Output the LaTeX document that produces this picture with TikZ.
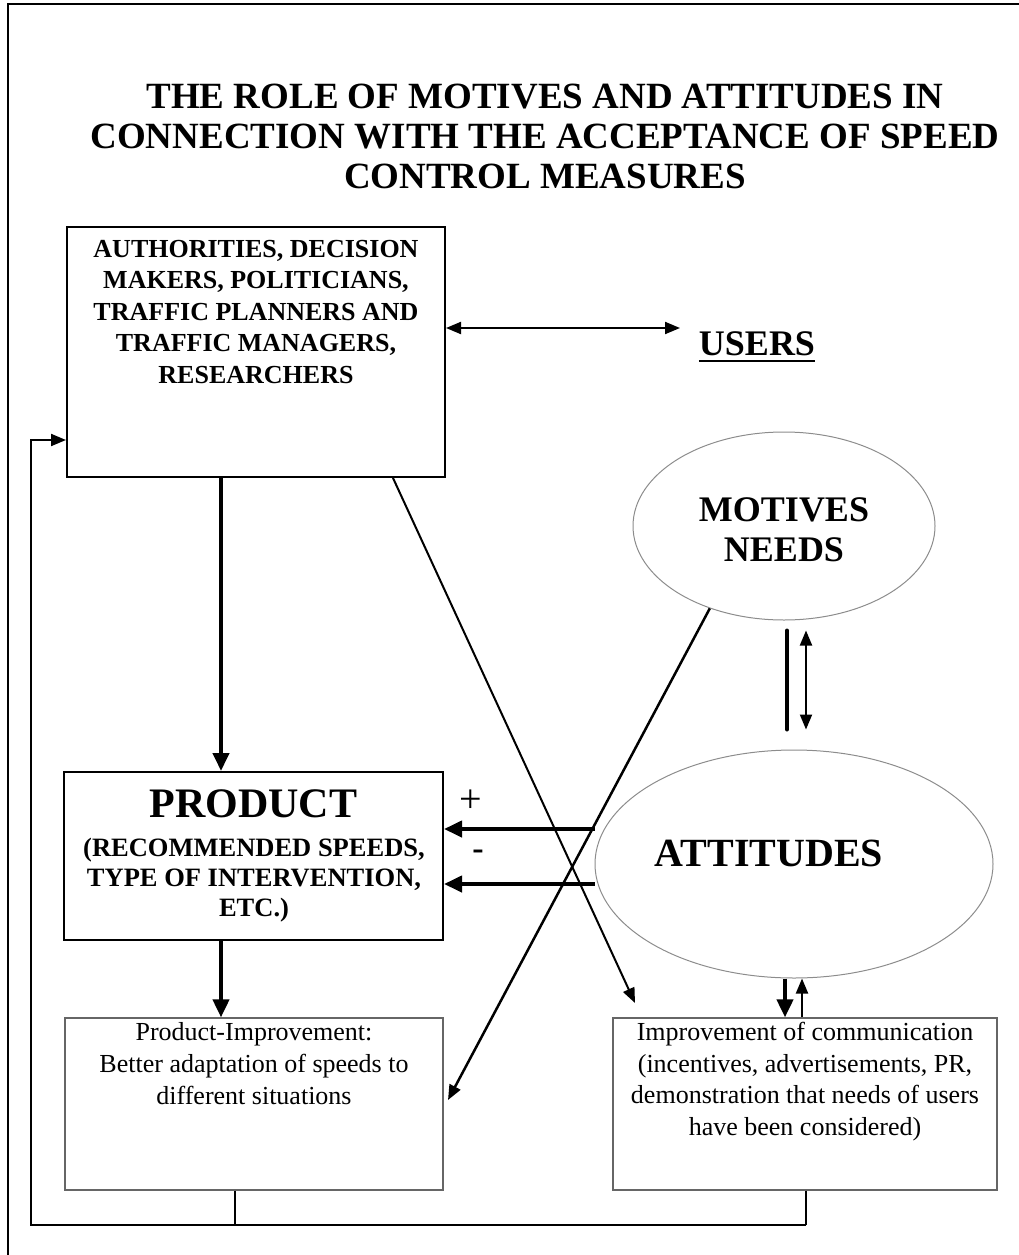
\documentclass[tikz,border=0pt]{standalone}
\usepackage{fontspec}
\setmainfont{Liberation Serif}
\usetikzlibrary{arrows.meta,shapes.geometric}
\begin{document}
\begin{tikzpicture}[x=1pt,y=-1pt,
  darkbox/.style={draw=black, line width=2pt, inner sep=0pt},
  lightbox/.style={draw=black!60, line width=1.2pt, inner sep=0pt},
  oval/.style={ellipse, draw=black!45, line width=1pt, inner sep=0pt},
  heavy/.style={line width=4pt, -{Triangle[length=18pt,width=16pt]}},
  slim/.style={line width=2pt, -{Triangle[length=15pt,width=12pt]}},
  slimboth/.style={line width=2pt, {Triangle[length=15pt,width=12pt]}-{Triangle[length=15pt,width=12pt]}},
  plain/.style={line width=2pt},
  titletxt/.style={font=\fontsize{37}{40}\selectfont\bfseries, align=center, inner sep=0pt},
  boldtxt/.style={font=\fontsize{26}{31.5}\selectfont\bfseries, align=center, inner sep=0pt},
  largetxt/.style={font=\fontsize{36}{40}\selectfont\bfseries, align=center, inner sep=0pt},
  normtxt/.style={font=\fontsize{26}{32}\selectfont, align=center, inner sep=0pt}
]
\useasboundingbox (0,0) rectangle (1019,1255);
% outer frame
\draw[line width=1.5pt] (8,1255) -- (8,4) -- (1019,4);

% title
\node[titletxt, anchor=north] (title) at (545,84)
  {THE ROLE OF MOTIVES AND ATTITUDES IN\\CONNECTION WITH THE ACCEPTANCE OF SPEED\\CONTROL MEASURES};

% boxes
\node[darkbox, minimum width=378pt, minimum height=250pt] (auth) at (256,352) {};
\node[boldtxt, anchor=north] (authtxt) at (256,240)
  {AUTHORITIES, DECISION\\MAKERS, POLITICIANS,\\TRAFFIC PLANNERS AND\\TRAFFIC MANAGERS,\\RESEARCHERS};

\node[darkbox, minimum width=379pt, minimum height=168pt] (prod) at (253.5,856) {};
\node[font=\fontsize{42}{44}\selectfont\bfseries, inner sep=0pt, anchor=base] (prodtitle) at (253.5,817) {PRODUCT};
\node[boldtxt, anchor=north, font=\fontsize{26.5}{30}\selectfont\bfseries] (prodtxt) at (254,838)
  {(RECOMMENDED SPEEDS,\\TYPE OF INTERVENTION,\\ETC.)};

\node[lightbox, minimum width=378pt, minimum height=172pt] (prodimp) at (254,1104) {};
\node[normtxt, anchor=north] (prodimptxt) at (254,1022)
  {Product-Improvement:\\Better adaptation of speeds to\\different situations};

\node[lightbox, minimum width=384pt, minimum height=172pt] (comm) at (805,1104) {};
\node[normtxt, anchor=north, font=\fontsize{26}{31.5}\selectfont] (commtxt) at (805,1022)
  {Improvement of communication\\(incentives, advertisements, PR,\\demonstration that needs of users\\have been considered)};

% users
\node[font=\fontsize{36}{40}\selectfont\bfseries, inner sep=0pt, anchor=base] (users) at (757,355) {USERS};
\draw[line width=2.5pt] ([yshift=-6pt]users.base west) -- ([yshift=-6pt]users.base east);

% ellipses
\node[oval, minimum width=302pt, minimum height=188pt] (mot) at (784,526) {};
\node[largetxt] (mottxt) at (784,530) {MOTIVES\\NEEDS};
\node[oval, minimum width=398pt, minimum height=228pt] (att) at (794,864) {};
\node[largetxt, font=\fontsize{40}{40}\selectfont\bfseries] (atttxt) at (769,853) {ATTITUDES};

% signs
\node[font=\fontsize{40}{40}\selectfont, inner sep=0pt] (plus) at (471,801) {+};
\node[font=\fontsize{34}{34}\selectfont\bfseries, inner sep=0pt] (minus) at (478,855) {-};

% connectors
\draw[slimboth] (auth.east |- 0,328) -- (680,328) coordinate (usersend);
\draw[heavy] (auth.south -| 221,0) -- (prod.north -| 221,0);
\draw[heavy] (prod.south -| 221,0) -- (prodimp.north -| 221,0);
\draw[heavy] (att.west |- 0,829) -- (prod.east |- 0,829);
\draw[heavy] (att.west |- 0,884) -- (prod.east |- 0,884);

\draw[line width=4pt, line cap=round] ([xshift=3pt,yshift=-10pt]mot.south) -- ([xshift=-7pt,yshift=20pt]att.north);
\draw[slimboth] ([xshift=22pt,yshift=-10pt]mot.south) -- ([xshift=12pt,yshift=20pt]att.north);

\draw[heavy] (att.south -| 785,0) -- (comm.north -| 785,0);
\draw[slim] (comm.north -| 802,0) -- (att.south -| 802,0);

\coordinate (tipA) at (635,1003);
\coordinate (tipB) at (448,1100);
\draw[slim] (auth.south -| 393,0) -- (tipA);
\draw[slim, line width=2.5pt] (mot.228) -- (tipB);

% feedback loop
\coordinate (jl) at (235,1225);
\coordinate (jr) at (806,1225);
\coordinate (cornerL) at (31,1225);
\coordinate (cornerT) at (31,440);
\draw[plain] (prodimp.south -| jl) -- (jl);
\draw[plain] (comm.south -| jr) -- (jr);
\draw[slim] (jr) -- (cornerL) -- (cornerT) -- (auth.west |- cornerT);
\end{tikzpicture}
\end{document}
